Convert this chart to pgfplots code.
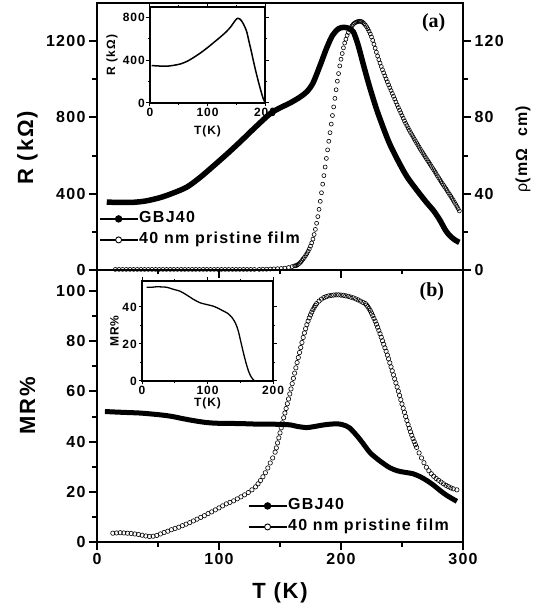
\documentclass[border=0pt]{standalone}
\usepackage{fontspec}
\setmainfont{Liberation Sans}[LetterSpace=8]
\newfontfamily\panelfont{Liberation Serif}
\usepackage{pgfplots}
\pgfplotsset{compat=1.18}

\pgfplotsset{
  mainax/.style={
    scale only axis, width=366pt,
    xmin=0, xmax=300,
    xtick={0,100,200,300}, minor x tick num=1, minor y tick num=1,
    axis line style={line width=2.6pt},
    every tick/.style={black, line width=2pt},
    tick align=outside,
    major tick length=8pt, minor tick length=4.5pt,
    tick label style={font=\fontsize{16}{18}\selectfont\bfseries},
    label style={font=\fontsize{22}{24}\selectfont\bfseries},
    /pgf/number format/assume math mode=true,
    /pgf/number format/1000 sep={},
    legend cell align=left,
    legend style={draw=none, fill=none, inner sep=0pt,
      font=\fontsize{16}{18}\selectfont\bfseries,
      nodes={inner sep=1pt, text height=11.5pt, text depth=3.5pt},
      row sep=4pt},
    legend image code/.code={\draw[mark repeat=2,mark phase=2]
      plot coordinates {(0pt,0pt) (19pt,0pt) (38pt,0pt)};},
  },
  inax/.style={
    scale only axis,
    xmin=0, xmax=200, xtick={0,100,200}, minor x tick num=1,
    axis line style={line width=1.1pt},
    every tick/.style={black, line width=1pt},
    tick align=outside, major tick length=3.5pt, minor tick length=2pt,
    tick label style={font=\fontsize{12}{13}\selectfont\bfseries, inner sep=1.5pt},
    label style={font=\fontsize{12}{13}\selectfont\bfseries},
    /pgf/number format/assume math mode=true,
    axis background/.style={fill=white},
  },
  gbj/.style={black, line width=1.2pt, mark=*, mark size=3.3pt,
    mark options={solid, line width=0.8pt}},
  film/.style={black, line width=1.2pt, mark=*, mark size=3pt,
    mark options={solid, fill=white, line width=0.9pt}},
}

\begin{document}
\begin{tikzpicture}

% ---------- panel (b): MR
\begin{axis}[mainax, at={(0pt,0pt)}, anchor=south west, height=272pt,
  ymin=0, ymax=108.4, ytick={0,20,40,60,80,100},
  xtick pos=bottom, ytick pos=left,
  xlabel={T (K)}, ylabel={MR\%},
  xlabel style={at={(axis description cs:0.5,-0.1875)}, anchor=center},
  ylabel style={at={(axis description cs:-0.19,0.5)}, anchor=center},
  legend style={at={(axis description cs:0.412,0.094)}, anchor=west},
]
\addlegendimage{gbj}
\addlegendentry{GBJ40}
\addlegendimage{film}
\addlegendentry{40 nm pristine film}

\addplot[black, line width=5pt, smooth, forget plot] coordinates {
(6.5,52) (15,51.8) (25,51.6) (35,51.4) (45,51) (55,50.5) (62,50) (70,49.2)
(80,48.3) (90,47.6) (100,47.3) (117,47.2) (130,47) (142,47) (152,46.8)
(158,46.7) (165,46) (172,45.6) (178,46) (185,46.6) (192,47) (199,47)
(204,46.3) (207,45.5) (211,43.5) (216,40.6) (220,38) (224,35.5) (230,33)
(235,31.2) (240,29.6) (246,28.4) (252,27.8) (259,27.2) (265,26) (270,24.6)
(276,22.6) (281,20.6) (286,18.8) (290,17.6) (295,16.2)
};

\addplot[black, only marks, mark=o, mark size=2.2pt, mark options={line width=0.6pt}, forget plot] coordinates {
(13,3.5) (16,3.6) (19,3.7) (22,3.6) (25,3.5) (28,3.4) (31,3.2) (34,3.0)
(37,2.7) (40,2.4) (43,2.2) (46,2.3) (49,2.6) (52,3.2) (55,3.8) (58,4.3)
(61,4.9) (64,5.4) (67,5.9) (70,6.5) (73,7.1) (76,7.7) (79,8.4) (82,9.1)
(85,9.8) (88,10.5) (91,11.3) (94,12.0) (97,12.8) (100,13.6) (103,14.4)
(106,15.2) (109,15.8) (112,16.4) (115,17.2) (118,18.0) (121,18.8) (124,19.7)
(127,20.8) (130,22.0) (132,23.2) (134,24.5) (136,26.0) (138,27.6) (140,29.5)
(142,31.5) (144,33.5) (146,35.8) (147,37.5) (148,39.5) (149,41.5) (150,43.5)
(151,45.5) (152,47.5) (153,49.5) (154,51.4) (155,53.2) (156,55.1) (157,57.0)
(158,59.0) (159,61.0) (160,63.1) (161,65.2) (162,67.3) (163,69.4) (164,71.5)
(165,73.5) (166,75.5) (167,77.5) (168,79.5) (169,81.5) (170,83.3) (171,85.0)
(172,86.6) (173,88.0) (174,89.3) (175,90.5) (176,91.6) (177,92.6) (178,93.5)
(179,94.3) (180,95.0) (182,96.0) (184,96.8) (186,97.4) (188,97.8) (190,98.1)
(192,98.3) (194,98.4) (196,98.5) (198,98.5) (200,98.4) (202,98.3) (204,98.1)
(206,97.9) (208,97.6) (210,97.3) (212,96.9) (214,96.5) (216,96.0) (218,95.5)
(220,95.0) (221,94.4) (222,93.8) (223,93.0) (224,92.2) (225,91.2) (226,90.2)
(227,89.1) (228,88.0) (229,86.8) (230,85.6) (231,84.3) (232,83.0) (233,81.6)
(234,80.2) (235,78.8) (236,77.4) (237,76.0) (238,74.5) (239,73.0) (240,71.4)
(241,69.8) (242,68.2) (243,66.6) (244,65.0) (245,63.4) (246,61.8) (247,60.1)
(248,58.4) (249,56.7) (250,55.0) (251,53.3) (252,51.7) (253,50.0) (254,48.4)
(255,46.8) (256,45.3) (257,43.9) (258,42.5) (259,41.2) (260,40.0) (261,38.8)
(262,37.7) (264,35.5) (266,33.5) (268,31.6) (270,29.8) (272,28.4) (274,27.2)
(276,26.2) (278,25.3) (280,24.6) (282,23.9) (284,23.2) (286,22.6) (288,22.1)
(290,21.6) (292,21.2) (295,20.8)
};
\node[font=\panelfont\fontsize{20}{22}\selectfont\bfseries] at (axis description cs:0.915,0.919) {(b)};
\end{axis}

% ---------- panel (a): R, left axis
\begin{axis}[mainax, at={(0pt,272pt)}, anchor=south west, height=267pt,
  ymin=0, ymax=1400, ytick={0,400,800,1200},
  xtick pos=bottom, ytick pos=left,
  xticklabel style={opacity=0},
  ylabel={R (kΩ)},
  ylabel style={at={(axis description cs:-0.19,0.457)}, anchor=center},
  legend style={at={(axis description cs:0.005,0.152)}, anchor=west},
]
\addlegendimage{gbj}
\addlegendentry{GBJ40}
\addlegendimage{film}
\addlegendentry{40 nm pristine film}

\addplot[black, line width=5.5pt, smooth, forget plot] coordinates {
(8,356) (20,354) (30,355) (40,362) (52,380) (63,405) (74,436) (85,488)
(95,543) (106,605) (117,670) (130,750) (142,820) (150,850) (158,875)
(166,905) (172,935) (177,980) (183,1075) (188,1160) (193,1230) (198,1265)
(202,1272) (206,1268) (210,1250) (214,1180) (218,1085) (223,970) (229,846)
(235,740) (240,660) (247,570) (254,490) (262,420) (270,355) (276,310)
(281,262) (286,205) (290,175) (294,155) (297,145)
};
\node[font=\panelfont\fontsize{20}{22}\selectfont\bfseries] at (axis description cs:0.92,0.925) {(a)};
\end{axis}

% ---------- panel (a): rho, right axis
\begin{axis}[mainax, at={(0pt,272pt)}, anchor=south west, height=267pt,
  ymin=0, ymax=140, ytick={0,40,80,120},
  xtick=\empty, ytick pos=right, yticklabel pos=right,
  ylabel={{\mdseries ρ}(mΩ\ \ cm)},
  ylabel style={at={(axis description cs:1.164,0.453)}, anchor=center,
    font=\fontsize{16}{18}\selectfont\bfseries},
]
\addplot[black, only marks, mark=o, mark size=2pt, mark options={line width=0.6pt}] coordinates {
(15,0.3) (18,0.3) (21,0.3) (24,0.3) (27,0.3) (30,0.3) (33,0.3) (36,0.3)
(39,0.3) (42,0.3) (45,0.3) (48,0.3) (51,0.3) (54,0.3) (57,0.3) (60,0.3)
(63,0.3) (66,0.3) (69,0.3) (72,0.3) (75,0.3) (78,0.3) (81,0.3) (84,0.3)
(87,0.3) (90,0.3) (93,0.3) (96,0.3) (99,0.3) (102,0.3) (105,0.3) (108,0.3)
(111,0.3) (114,0.3) (117,0.3) (120,0.3) (123,0.3) (126,0.3) (129,0.3)
(133,0.3) (136,0.4) (139,0.4) (142,0.5) (145,0.6) (148,0.7) (151,0.8)
(154,1.0) (157,1.3) (160,1.8) (162,2.2)
(163,2.2) (164,2.6) (165,3.0) (166,3.5) (167,4.2) (168,5) (169,5.8) (170,6.6)
(171,7.6) (172,8.6) (173,9.8) (174,11) (175,12.5) (176,14.2) (177,16.2)
(178,18.6) (179,21.3) (180,24.5) (181,28) (182,31.8) (183,36) (184,40.5)
(185,45) (186,49.5) (187,54) (188,58.5) (189,63) (190,67.5) (191,72)
(192,76.5) (193,81) (194,85.5) (195,90) (196,94.5) (197,99) (198,103)
(199,107) (200,110.5) (201,113.5) (202,116.5) (203,119) (204,121) (205,123)
(206,124.5) (207,126) (208,127) (209,128) (210,128.8) (211,129.4) (212,129.8)
(213,130.1) (214,130.3) (215,130.4) (216,130.4) (217,130.2) (218,129.8)
(219,129.2) (220,128.4) (221,127.5) (222,126.4) (223,125.2) (224,123.8)
(225,122.2) (226,120.4) (227,118.4) (228,116.3) (229,114.2) (230,112.2)
(231,110.3) (232,108.5) (233,106.7) (234,105) (235,103.4) (236,101.8)
(237,100.2) (238,98.7) (239,97.1) (240,95.6) (241,94.1) (242,92.6) (243,91.1)
(244,89.6) (245,88.1) (246,86.6) (247,85.2) (248,83.8) (249,82.4) (250,81)
(251,79.6) (252,78.2) (253,76.9) (254,75.7) (255,74.5) (256,73.3) (257,72.1)
(258,71) (259,69.9) (260,68.8) (261,67.7) (262,66.6) (263,65.5) (264,64.5)
(265,63.4) (266,62.4) (267,61.4) (268,60.4) (269,59.4) (270,58.4) (271,57.4)
(272,56.5) (273,55.5) (274,54.5) (275,53.5) (276,52.5) (277,51.5) (278,50.5)
(279,49.4) (280,48.4) (281,47.4) (282,46.4) (283,45.4) (284,44.5) (285,43.5)
(286,42.6) (287,41.6) (288,40.6) (289,39.6) (290,38.6) (291,37.6) (292,36.6)
(293,35.5) (294,34.4) (295,33.3) (296,32.2) (297,31)
};
\end{axis}

% ---------- inset (a)
\begin{axis}[inax, at={(53pt,439pt)}, anchor=south west, width=115pt, height=96pt,
  ymin=0, ymax=900, ytick={0,400,800}, minor y tick num=1,
  xlabel={T(K)}, ylabel={R (kΩ)},
  xlabel style={at={(axis description cs:0.5,-0.3)}, anchor=center},
  ylabel style={at={(axis description cs:-0.33,0.5)}, anchor=center},
]
\addplot[black, line width=1.5pt, smooth] coordinates {
(3,351) (15,347) (29,345) (40,352) (53,366) (65,392) (76,427) (88,470)
(100,519) (112,572) (124,626) (133,670) (141,718) (147,765) (151,790)
(153,794) (156,788) (159,772) (163,735) (168,672) (172,580) (176,489)
(180,390) (185,275) (190,170) (194,92) (197,40) (200,6)
};
\end{axis}

% ---------- inset (b)
\begin{axis}[inax, at={(45pt,161pt)}, anchor=south west, width=131pt, height=100pt,
  ymin=0, ymax=54, ytick={0,20,40}, minor y tick num=1,
  xlabel={T(K)}, ylabel={MR\%},
  xlabel style={at={(axis description cs:0.5,-0.22)}, anchor=center},
  ylabel style={at={(axis description cs:-0.21,0.5)}, anchor=center},
]
\addplot[black, line width=1.3pt, smooth] coordinates {
(7,50.6) (15,50.6) (22,50.9) (30,50.8) (38,50.6) (48,49.5) (58,48.5)
(68,46.5) (79,44) (89,42.2) (100,41.2) (108,40.5) (115,39.5) (122,38.2)
(131,36.5) (138,34) (143,31) (147,27) (151,21) (155,15) (159,9.5)
(163,5) (167,2) (171,0.3)
};
\end{axis}

\pgfresetboundingbox
\path[use as bounding box] (-97pt,-65pt) rectangle (443pt,542pt);
\end{tikzpicture}
\end{document}
